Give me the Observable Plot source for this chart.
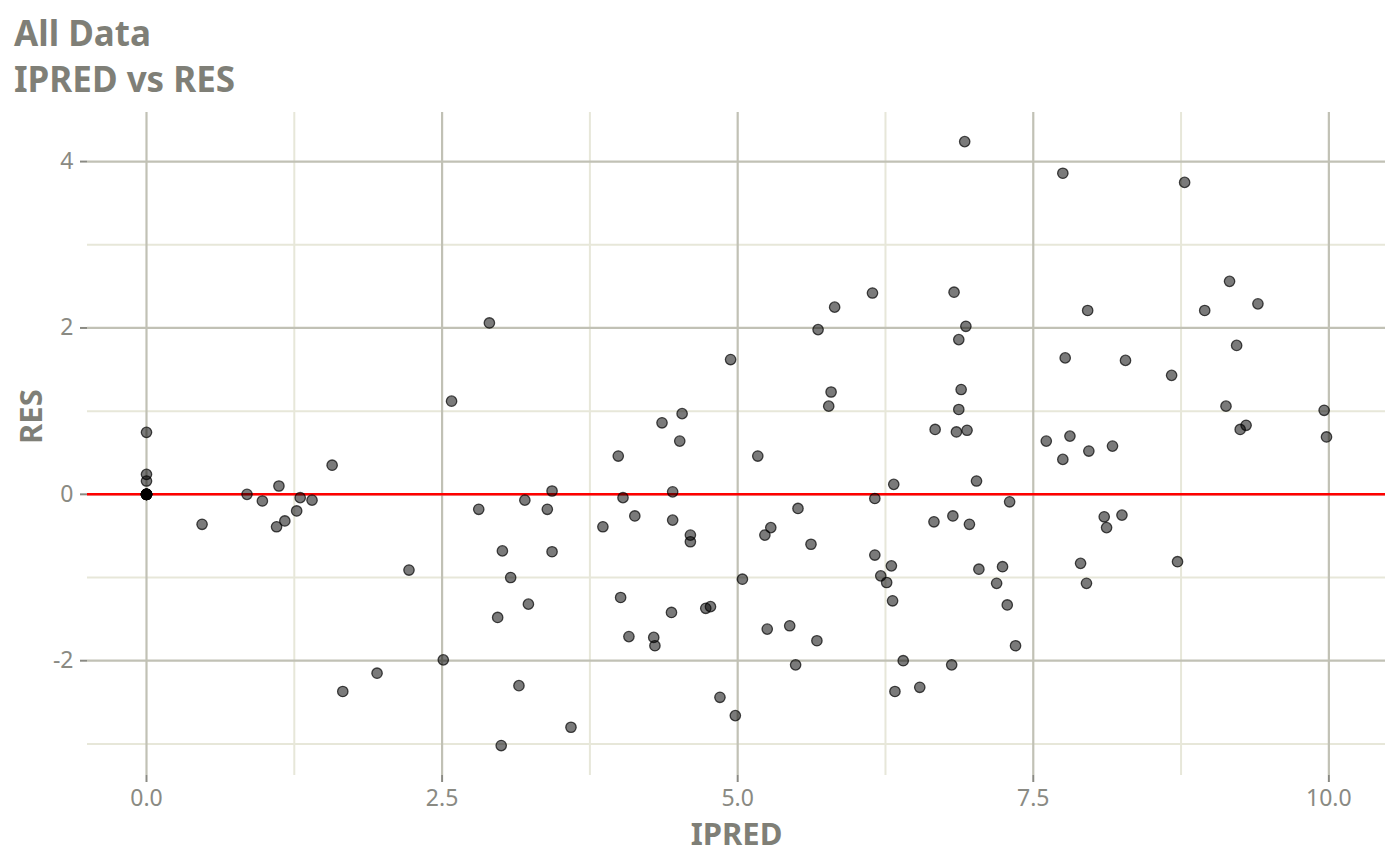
<!DOCTYPE html>
<html>
<head>
<meta charset="utf-8">
<script src="https://cdn.jsdelivr.net/npm/d3@7"></script>
<script src="https://cdn.jsdelivr.net/npm/@observablehq/plot@0.6"></script>
<style>
  html, body { margin: 0; padding: 0; background: #fff; }
  #title { font-family: "Noto Sans", sans-serif; font-weight: 700; font-size: 35px; line-height: 46px;
           color: #7f7f77; padding: 10px 0 0 14px; height: 92px; }
</style>
</head>
<body>
<div id="title"><div>All Data</div><div>IPRED vs RES</div></div>
<div id="chart"></div>
<script>
const ipred = [
  0, 0, 0, 0, 0, 0, 0, 0, 0, 0, 0,
  0.47, 0.85, 0.98, 1.12, 1.10, 1.17, 1.27, 1.30, 1.40, 1.57, 1.66, 1.95, 2.22, 2.51, 2.58,
  2.81, 2.90, 2.97, 3.01, 3.00, 3.08, 3.15, 3.20, 3.23, 3.39, 3.43, 3.43, 3.59, 3.86, 3.99,
  4.01, 4.03, 4.08, 4.13, 4.29, 4.30, 4.36, 4.44, 4.45, 4.45, 4.51, 4.53, 4.60, 4.60, 4.73,
  4.77, 4.85, 4.94, 4.98, 5.04, 5.17, 5.23, 5.25, 5.28, 5.44, 5.49, 5.51, 5.62, 5.67, 5.68,
  5.77, 5.79, 5.82, 6.14, 6.16, 6.16, 6.21, 6.26, 6.30, 6.31, 6.32, 6.33, 6.40, 6.54, 6.66,
  6.67, 6.81, 6.82, 6.83, 6.85, 6.87, 6.87, 6.89, 6.92, 6.93, 6.94, 6.96, 7.02, 7.04, 7.19,
  7.24, 7.28, 7.30, 7.35, 7.61, 7.75, 7.75, 7.77, 7.81, 7.90, 7.95, 7.96, 7.97, 8.10, 8.12,
  8.17, 8.25, 8.28, 8.67, 8.72, 8.78, 8.95, 9.13, 9.16, 9.22, 9.25, 9.30, 9.40, 9.96, 9.98
];
const res = [
  0.745, 0.24, 0.16, 0, 0, 0, 0, 0, 0, 0, 0,
  -0.36, 0.0, -0.08, 0.10, -0.39, -0.32, -0.20, -0.04, -0.07, 0.35, -2.37, -2.15, -0.91, -1.99, 1.12,
  -0.18, 2.06, -1.48, -0.68, -3.02, -1.0, -2.3, -0.07, -1.32, -0.18, 0.04, -0.69, -2.8, -0.39, 0.46,
  -1.24, -0.04, -1.71, -0.26, -1.72, -1.82, 0.86, -1.42, -0.31, 0.03, 0.64, 0.97, -0.49, -0.57, -1.37,
  -1.35, -2.44, 1.62, -2.66, -1.02, 0.46, -0.49, -1.62, -0.40, -1.58, -2.05, -0.17, -0.6, -1.76, 1.98,
  1.06, 1.23, 2.25, 2.42, -0.05, -0.73, -0.98, -1.06, -0.86, -1.28, 0.12, -2.37, -2.0, -2.32, -0.33,
  0.78, -2.05, -0.26, 2.43, 0.75, 1.86, 1.02, 1.26, 4.24, 2.02, 0.77, -0.36, 0.16, -0.9, -1.07,
  -0.87, -1.33, -0.09, -1.82, 0.64, 0.42, 3.86, 1.64, 0.70, -0.83, -1.07, 2.21, 0.52, -0.27, -0.40,
  0.58, -0.25, 1.61, 1.43, -0.81, 3.75, 2.21, 1.06, 2.56, 1.79, 0.78, 0.83, 2.29, 1.01, 0.69
];
const xMajor = [0, 2.5, 5, 7.5, 10];
const xMinor = [1.25, 3.75, 6.25, 8.75];
const yMajor = [-2, 0, 2, 4];
const yMinor = [-3, -1, 1, 3];
const xTitle = "IPRED";
const yTitle = "RES";

const data = ipred.map((x, i) => ({x, y: res[i]}));

const textColor = "#7f7f77";
const tickColor = "#8a8a83";
const majorGrid = "#c1c1b5";
const minorGrid = "#e7e7d9";

const chart = Plot.plot({
  width: 1400,
  height: 764,
  marginLeft: 87,
  marginRight: 15,
  marginTop: 10,
  marginBottom: 91,
  style: {fontFamily: "Noto Sans, sans-serif", background: "#fff"},
  x: {domain: [-0.499, 10.479]},
  y: {domain: [-3.38, 4.59]},
  marks: [
    Plot.ruleX(xMinor, {stroke: minorGrid, strokeWidth: 2}),
    Plot.ruleY(yMinor, {stroke: minorGrid, strokeWidth: 2}),
    Plot.ruleX(xMajor, {stroke: majorGrid, strokeWidth: 2.2}),
    Plot.ruleY(yMajor, {stroke: majorGrid, strokeWidth: 2.2}),
    Plot.ruleY([0], {stroke: "#ff0000", strokeWidth: 2.5}),
    Plot.dot(data, {x: "x", y: "y", r: 5.2, fill: "black", fillOpacity: 0.52,
                    stroke: "black", strokeOpacity: 0.7, strokeWidth: 1.3}),
    Plot.axisX(xMajor, {tickSize: 7, tickPadding: 7, tickFormat: d => d.toFixed(1),
                        fontSize: 23, color: tickColor, strokeWidth: 2, label: null}),
    Plot.axisY(yMajor, {tickSize: 7, tickPadding: 7, tickFormat: d => String(d),
                        fontSize: 23, color: tickColor, strokeWidth: 2, label: null}),
    Plot.text([xTitle], {frameAnchor: "bottom", dy: 60, text: d => d, fontSize: 31,
                         fontWeight: "bold", fill: textColor, lineAnchor: "middle"}),
    Plot.text([yTitle], {frameAnchor: "left", dx: -55, rotate: -90, text: d => d, fontSize: 31,
                         fontWeight: "bold", fill: textColor, lineAnchor: "middle"})
  ]
});
document.getElementById("chart").appendChild(chart);
</script>
</body>
</html>
